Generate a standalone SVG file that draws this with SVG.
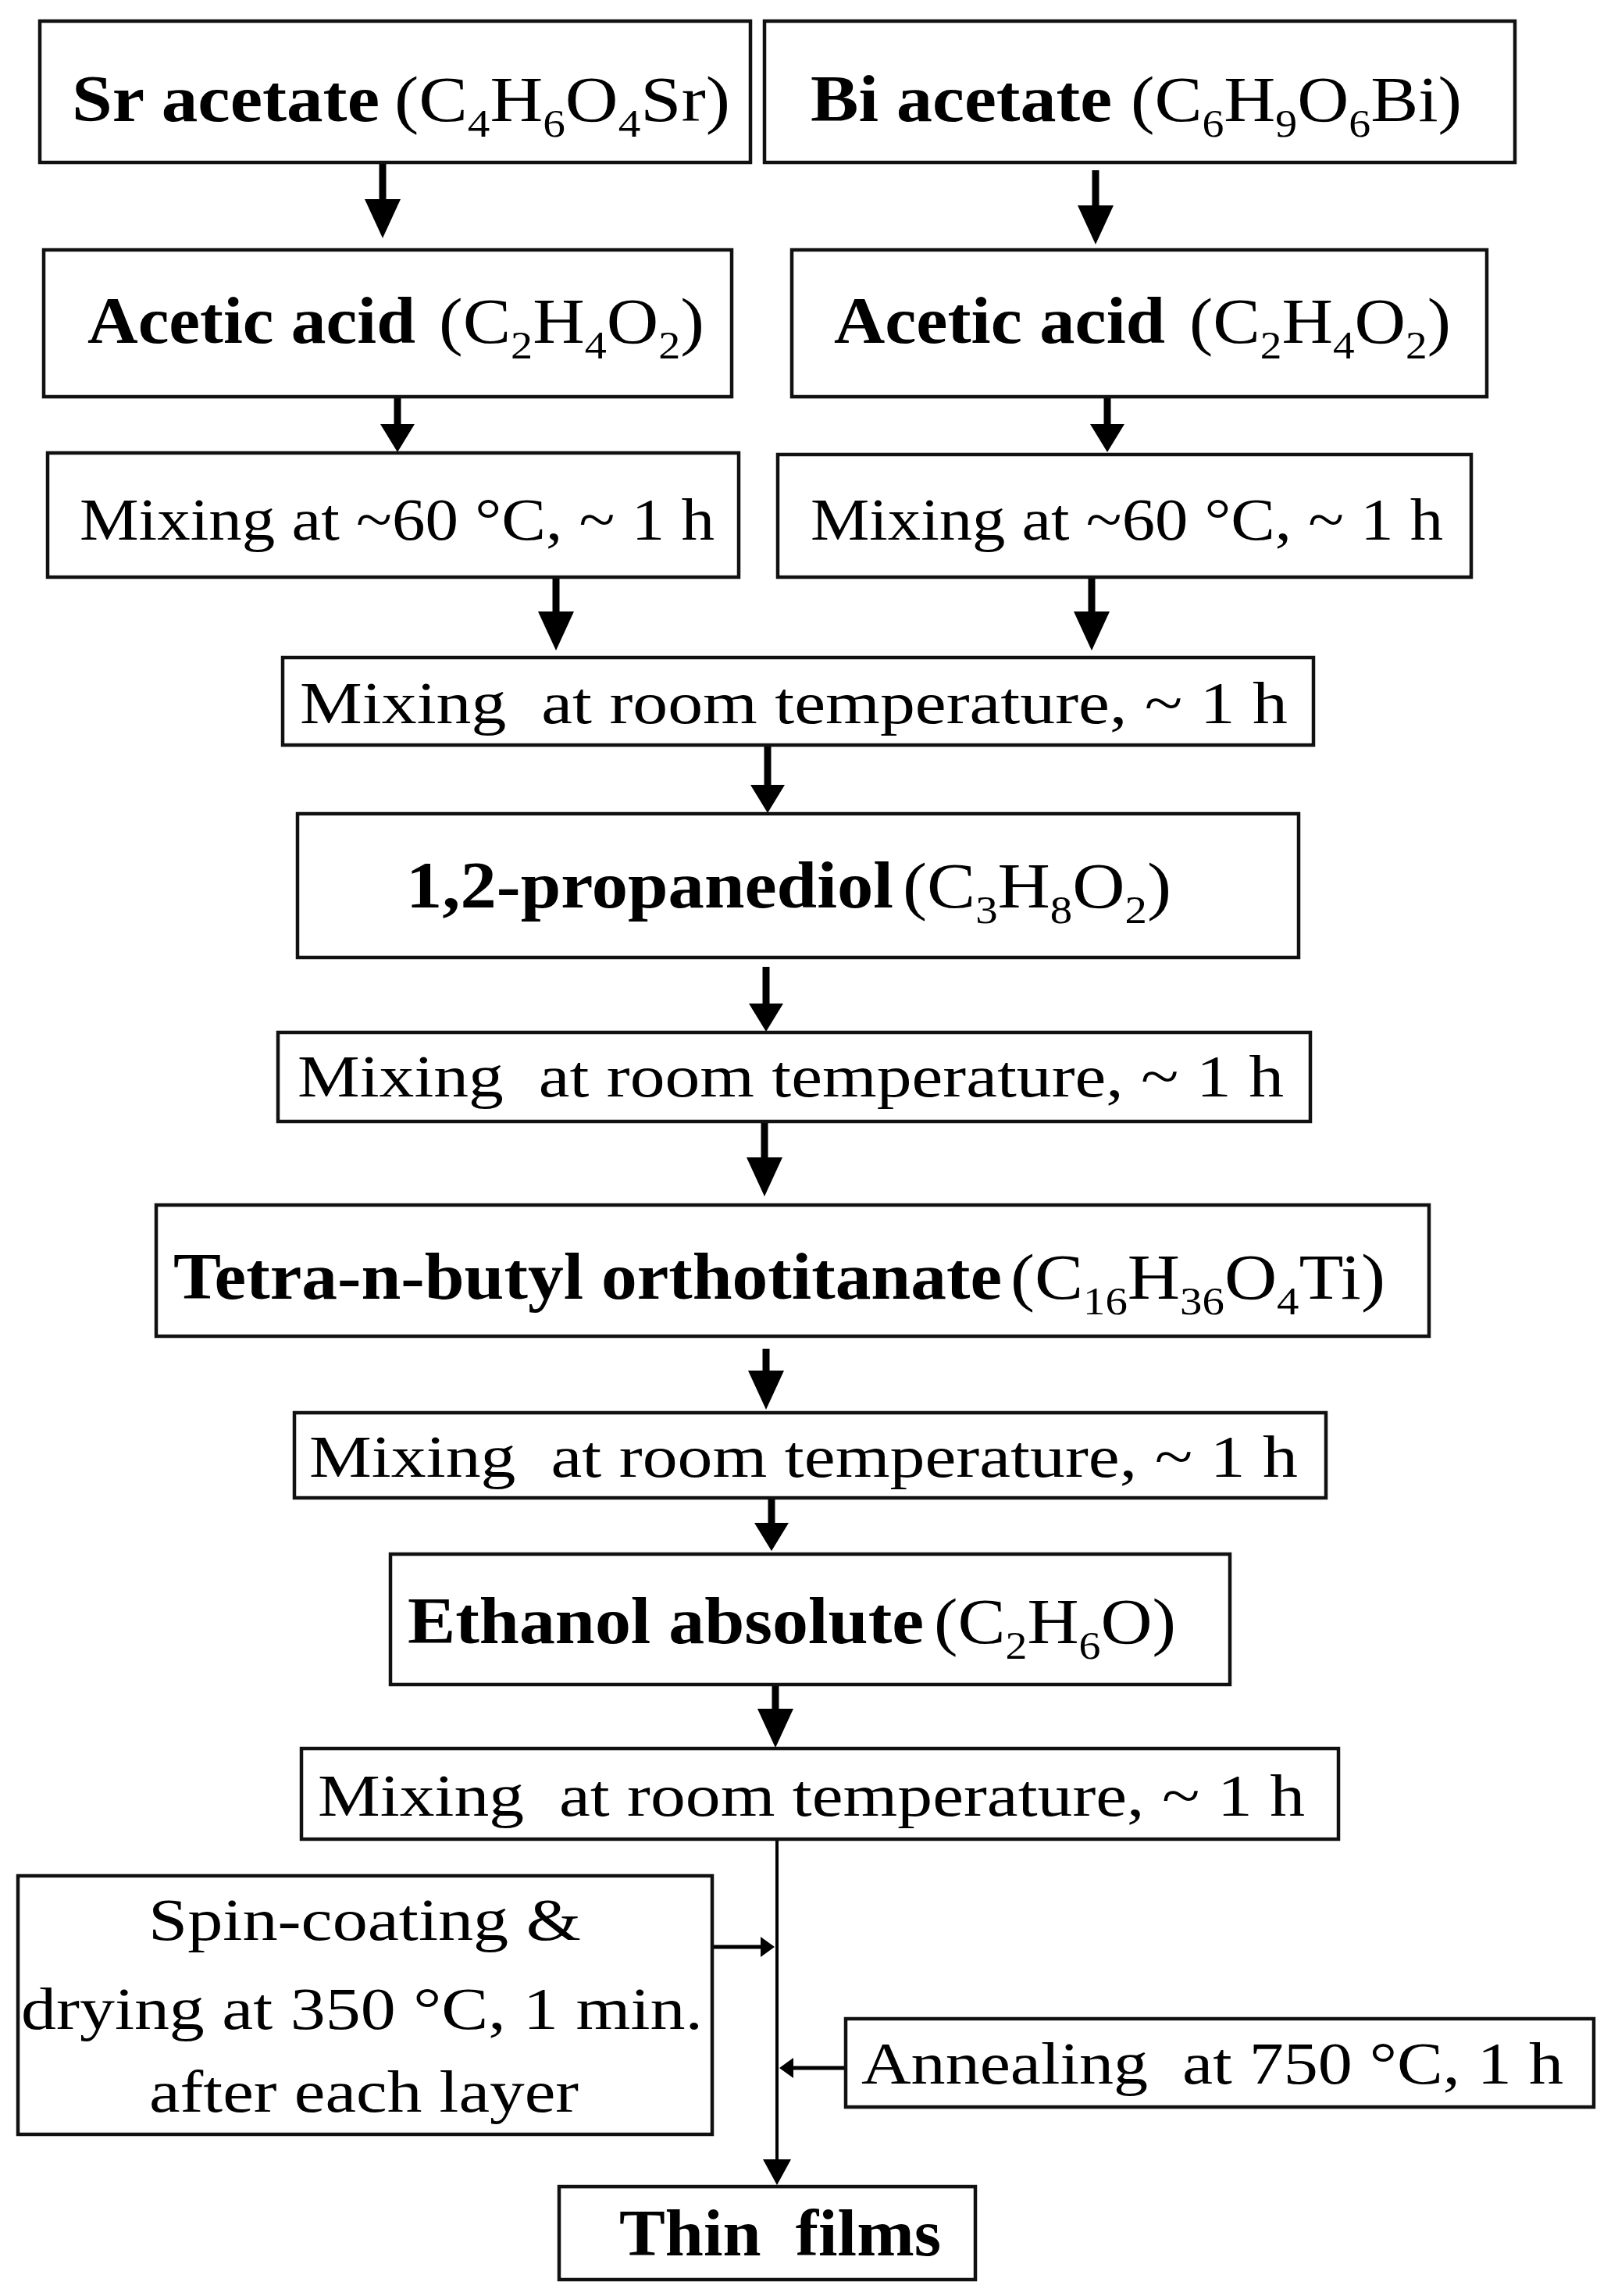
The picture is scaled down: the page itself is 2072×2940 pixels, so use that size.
<svg xmlns="http://www.w3.org/2000/svg" width="2072" height="2940" viewBox="0 0 2072 2940">
<style>
.box{fill:#fff;stroke:#111;stroke-width:4.5}
.b{font-family:"Liberation Serif","Times New Roman",serif;font-weight:bold;font-size:85px;fill:#000}
.r{font-family:"Liberation Serif","Times New Roman",serif;font-size:82px;fill:#000}
.m{font-family:"Liberation Serif","Times New Roman",serif;font-size:76px;fill:#000}
.s{font-size:50px}
.arr{stroke:#000;stroke-width:9;fill:none}
.thin{stroke:#000;stroke-width:4;fill:none}
.side{stroke:#000;stroke-width:5;fill:none}
</style>
<defs>
<marker id="big" markerUnits="userSpaceOnUse" markerWidth="50" markerHeight="46" viewBox="0 0 50 46" refX="20" refY="23" orient="auto"><path d="M0,0 L50,23 L0,46 Z" fill="#000"/></marker>
<marker id="short" markerUnits="userSpaceOnUse" markerWidth="36" markerHeight="44" viewBox="0 0 36 44" refX="14" refY="22" orient="auto"><path d="M0,0 L36,22 L0,44 Z" fill="#000"/></marker>
<marker id="tri" markerUnits="userSpaceOnUse" markerWidth="33" markerHeight="36" viewBox="0 0 33 36" refX="10" refY="18" orient="auto"><path d="M0,0 L33,18 L0,36 Z" fill="#000"/></marker>
<marker id="small" markerUnits="userSpaceOnUse" markerWidth="18" markerHeight="26" viewBox="0 0 18 26" refX="6" refY="13" orient="auto"><path d="M0,0 L18,13 L0,26 Z" fill="#000"/></marker>
</defs>
<rect width="2072" height="2940" fill="#fff"/>

<g id="connectors">
<line class="arr" x1="490" y1="210" x2="490" y2="275" marker-end="url(#big)"/>
<line class="arr" x1="1403" y1="218" x2="1403" y2="283" marker-end="url(#big)"/>
<line class="arr" x1="509" y1="510" x2="509" y2="557" marker-end="url(#short)"/>
<line class="arr" x1="1418" y1="510" x2="1418" y2="557" marker-end="url(#short)"/>
<line class="arr" x1="712" y1="741" x2="712" y2="803" marker-end="url(#big)"/>
<line class="arr" x1="1398" y1="741" x2="1398" y2="803" marker-end="url(#big)"/>
<line class="arr" x1="983" y1="956" x2="983" y2="1019" marker-end="url(#short)"/>
<line class="arr" x1="981" y1="1238" x2="981" y2="1299" marker-end="url(#short)"/>
<line class="arr" x1="979" y1="1438" x2="979" y2="1502" marker-end="url(#big)"/>
<line class="arr" x1="981" y1="1727" x2="981" y2="1775" marker-end="url(#big)"/>
<line class="arr" x1="988" y1="1920" x2="988" y2="1964" marker-end="url(#short)"/>
<line class="arr" x1="993" y1="2159" x2="993" y2="2208" marker-end="url(#big)"/>
<line class="thin" x1="995" y1="2355" x2="995" y2="2775" marker-end="url(#tri)"/>
<line class="side" x1="912" y1="2493" x2="980" y2="2493" marker-end="url(#small)"/>
<line class="side" x1="1083" y1="2648" x2="1010" y2="2648" marker-end="url(#small)"/>
</g>

<g id="sr-acetate">
<rect class="box" x="51" y="27" width="910" height="181"/>
<text class="b" x="92" y="155" textLength="394" lengthAdjust="spacingAndGlyphs">Sr acetate</text>
<text class="r" x="505" y="155" textLength="430" lengthAdjust="spacingAndGlyphs">(C<tspan class="s" dy="20">4</tspan><tspan dy="-20">H</tspan><tspan class="s" dy="20">6</tspan><tspan dy="-20">O</tspan><tspan class="s" dy="20">4</tspan><tspan dy="-20">Sr)</tspan></text>
</g>

<g id="bi-acetate">
<rect class="box" x="979" y="27" width="961" height="181"/>
<text class="b" x="1038" y="155" textLength="386" lengthAdjust="spacingAndGlyphs">Bi acetate</text>
<text class="r" x="1448" y="155" textLength="424" lengthAdjust="spacingAndGlyphs">(C<tspan class="s" dy="20">6</tspan><tspan dy="-20">H</tspan><tspan class="s" dy="20">9</tspan><tspan dy="-20">O</tspan><tspan class="s" dy="20">6</tspan><tspan dy="-20">Bi)</tspan></text>
</g>

<g id="acetic-acid-left">
<rect class="box" x="56" y="320" width="881" height="188"/>
<text class="b" x="112" y="439" textLength="420" lengthAdjust="spacingAndGlyphs">Acetic acid</text>
<text class="r" x="562" y="439" textLength="340" lengthAdjust="spacingAndGlyphs">(C<tspan class="s" dy="20">2</tspan><tspan dy="-20">H</tspan><tspan class="s" dy="20">4</tspan><tspan dy="-20">O</tspan><tspan class="s" dy="20">2</tspan><tspan dy="-20">)</tspan></text>
</g>

<g id="acetic-acid-right">
<rect class="box" x="1014" y="320" width="890" height="188"/>
<text class="b" x="1068" y="439" textLength="424" lengthAdjust="spacingAndGlyphs">Acetic acid</text>
<text class="r" x="1523" y="439" textLength="335" lengthAdjust="spacingAndGlyphs">(C<tspan class="s" dy="20">2</tspan><tspan dy="-20">H</tspan><tspan class="s" dy="20">4</tspan><tspan dy="-20">O</tspan><tspan class="s" dy="20">2</tspan><tspan dy="-20">)</tspan></text>
</g>

<g id="mixing-60-left">
<rect class="box" x="61" y="580" width="885" height="159"/>
<text class="m" x="102" y="691" textLength="813" lengthAdjust="spacingAndGlyphs">Mixing at ~60 °C, ~ 1 h</text>
</g>

<g id="mixing-60-right">
<rect class="box" x="996" y="582" width="888" height="157"/>
<text class="m" x="1038" y="691" textLength="810" lengthAdjust="spacingAndGlyphs">Mixing at ~60 °C, ~ 1 h</text>
</g>

<g id="mixing-rt-1">
<rect class="box" x="362" y="842" width="1320" height="112"/>
<text class="m" x="384" y="926" textLength="1265" lengthAdjust="spacingAndGlyphs">Mixing&#160; at room temperature, ~ 1 h</text>
</g>

<g id="propanediol">
<rect class="box" x="381" y="1042" width="1282" height="184"/>
<text class="b" x="520" y="1162" textLength="624" lengthAdjust="spacingAndGlyphs">1,2-propanediol</text>
<text class="r" x="1156" y="1162" textLength="344" lengthAdjust="spacingAndGlyphs">(C<tspan class="s" dy="20">3</tspan><tspan dy="-20">H</tspan><tspan class="s" dy="20">8</tspan><tspan dy="-20">O</tspan><tspan class="s" dy="20">2</tspan><tspan dy="-20">)</tspan></text>
</g>

<g id="mixing-rt-2">
<rect class="box" x="356" y="1322" width="1322" height="114"/>
<text class="m" x="381" y="1404" textLength="1263" lengthAdjust="spacingAndGlyphs">Mixing&#160; at room temperature, ~ 1 h</text>
</g>

<g id="tetra-butyl">
<rect class="box" x="200" y="1543" width="1630" height="168"/>
<text class="b" x="222" y="1663" textLength="1061" lengthAdjust="spacingAndGlyphs">Tetra-n-butyl orthotitanate</text>
<text class="r" x="1294" y="1663" textLength="480" lengthAdjust="spacingAndGlyphs">(C<tspan class="s" dy="20">16</tspan><tspan dy="-20">H</tspan><tspan class="s" dy="20">36</tspan><tspan dy="-20">O</tspan><tspan class="s" dy="20">4</tspan><tspan dy="-20">Ti)</tspan></text>
</g>

<g id="mixing-rt-3">
<rect class="box" x="377" y="1809" width="1321" height="109"/>
<text class="m" x="396" y="1891" textLength="1266" lengthAdjust="spacingAndGlyphs">Mixing&#160; at room temperature, ~ 1 h</text>
</g>

<g id="ethanol">
<rect class="box" x="500" y="1990" width="1075" height="167"/>
<text class="b" x="522" y="2104" textLength="661" lengthAdjust="spacingAndGlyphs">Ethanol absolute</text>
<text class="r" x="1196" y="2104" textLength="310" lengthAdjust="spacingAndGlyphs">(C<tspan class="s" dy="20">2</tspan><tspan dy="-20">H</tspan><tspan class="s" dy="20">6</tspan><tspan dy="-20">O)</tspan></text>
</g>

<g id="mixing-rt-4">
<rect class="box" x="386" y="2239" width="1328" height="116"/>
<text class="m" x="407" y="2325" textLength="1264" lengthAdjust="spacingAndGlyphs">Mixing&#160; at room temperature, ~ 1 h</text>
</g>

<g id="spin-coating">
<rect class="box" x="23" y="2402" width="889" height="331"/>
<text class="m" x="190" y="2484" textLength="554" lengthAdjust="spacingAndGlyphs">Spin-coating &amp;</text>
<text class="m" x="27" y="2598" textLength="873" lengthAdjust="spacingAndGlyphs">drying at 350 °C, 1 min.</text>
<text class="m" x="191" y="2704" textLength="550" lengthAdjust="spacingAndGlyphs">after each layer</text>
</g>

<g id="annealing">
<rect class="box" x="1083" y="2585" width="958" height="113"/>
<text class="m" x="1103" y="2668" textLength="899" lengthAdjust="spacingAndGlyphs">Annealing&#160; at 750 °C, 1 h</text>
</g>

<g id="thin-films">
<rect class="box" x="716" y="2800" width="533" height="119"/>
<text class="b" x="793" y="2888" textLength="412" lengthAdjust="spacingAndGlyphs">Thin&#160; films</text>
</g>
</svg>
